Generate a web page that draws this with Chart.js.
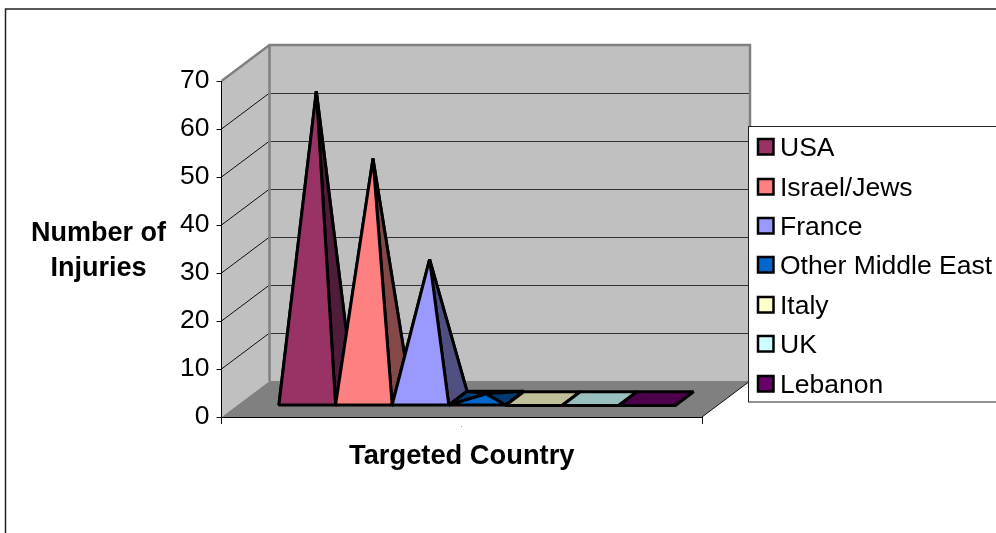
<!DOCTYPE html>
<html>
<head>
<meta charset="utf-8">
<style>
  html, body { margin: 0; padding: 0; background: #fff; overflow: hidden; }
  #wrap { position: relative; width: 996px; height: 533px; }
</style>
<script src="https://cdn.jsdelivr.net/npm/chart.js@4/dist/chart.umd.js"></script>
</head>
<body>
<div id="wrap"><canvas id="chart" width="996" height="533"></canvas></div>
<script>
const countries = ['USA', 'Israel/Jews', 'France', 'Other Middle East', 'Italy', 'UK', 'Lebanon'];
const injuries = [64, 50, 29, 1, 0, 0, 0];
const yTicks = [0, 10, 20, 30, 40, 50, 60, 70];
const yTitleLines = ['Number of', 'Injuries'];
const faceColors = ['#993366', '#ff8080', '#9999ff', '#0066cc', '#ffffcc', '#ccffff', '#660066'];
const sideColors = ['#4f1c3a', '#844848', '#505080', '#003a70', '#bfbf99', '#99bfbf', '#4c004c'];

// how far the back wall sits from the front plane
const DEPTH_X = 48;
const DEPTH_Y = -36;
// where the row of pyramids sits between the front plane (0) and the back wall (1)
const ROW_FRONT = 0.32;
const ROW_BACK = 0.7;

const FONT = '"Liberation Sans", Arial, sans-serif';

function poly(ctx, pts, fill) {
  ctx.beginPath();
  pts.forEach((p, i) => (i ? ctx.lineTo(p[0], p[1]) : ctx.moveTo(p[0], p[1])));
  ctx.closePath();
  if (fill) {
    ctx.fillStyle = fill;
    ctx.fill();
  }
}

// Page frame, walls, floor and the gridlines running over them
const wallsPlugin = {
  id: 'walls',
  beforeDraw(chart) {
    const { ctx, chartArea: a, scales: { y } } = chart;
    const bx = a.left + DEPTH_X;
    const rx = a.right + DEPTH_X;
    const top = y.getPixelForValue(70);
    const bot = y.getPixelForValue(0);

    ctx.save();
    ctx.strokeStyle = '#222';
    ctx.lineWidth = 1.5;
    ctx.beginPath();
    ctx.moveTo(5.5, 533);
    ctx.lineTo(5.5, 9);
    ctx.lineTo(996, 9);
    ctx.stroke();

    poly(ctx, [[a.left, top], [bx, top + DEPTH_Y], [bx, bot + DEPTH_Y], [a.left, bot]], '#c0c0c0');
    poly(ctx, [[bx, top + DEPTH_Y], [rx, top + DEPTH_Y], [rx, bot + DEPTH_Y], [bx, bot + DEPTH_Y]], '#c0c0c0');
    poly(ctx, [[a.left, bot], [bx, bot + DEPTH_Y], [rx, bot + DEPTH_Y], [a.right, bot]], '#808080');

    yTicks.forEach(v => {
      if (v === 0 || v === 70) return;
      const py = y.getPixelForValue(v);
      ctx.strokeStyle = '#111';
      ctx.lineWidth = 1;
      ctx.beginPath();
      ctx.moveTo(a.left, py);
      ctx.lineTo(bx, py + DEPTH_Y);
      ctx.stroke();
      ctx.strokeStyle = '#333';
      ctx.beginPath();
      ctx.moveTo(bx, Math.round(py + DEPTH_Y) + 0.5);
      ctx.lineTo(rx, Math.round(py + DEPTH_Y) + 0.5);
      ctx.stroke();
    });

    // grey rim of the walls
    ctx.strokeStyle = '#808080';
    ctx.lineWidth = 2.5;
    ctx.beginPath();
    ctx.moveTo(a.left, top);
    ctx.lineTo(bx, top + DEPTH_Y);
    ctx.lineTo(rx, top + DEPTH_Y);
    ctx.lineTo(rx, bot + DEPTH_Y);
    ctx.moveTo(bx, top + DEPTH_Y);
    ctx.lineTo(bx, bot + DEPTH_Y);
    ctx.stroke();

    // right edge of the floor
    ctx.strokeStyle = '#111';
    ctx.lineWidth = 1;
    ctx.beginPath();
    ctx.moveTo(a.right, bot);
    ctx.lineTo(rx, bot + DEPTH_Y);
    ctx.stroke();
    ctx.restore();
  },
  afterDraw(chart) {
    const { ctx } = chart;
    ctx.save();
    ctx.fillStyle = '#000';
    ctx.font = 'bold 27px ' + FONT;
    ctx.textAlign = 'center';
    ctx.textBaseline = 'middle';
    yTitleLines.forEach((line, i) => ctx.fillText(line, 98.5, 234 + i * 35));
    ctx.fillStyle = '#999';
    ctx.fillRect(461, 426, 1, 1);
    ctx.restore();
  }
};

function drawPyramid(ctx, bar, face, side) {
  const hw = bar.width / 2;
  const at = (x, f) => [x + DEPTH_X * f, bar.base + DEPTH_Y * f];
  const fl = at(bar.x - hw, ROW_FRONT);
  const fr = at(bar.x + hw, ROW_FRONT);
  const bl = at(bar.x - hw, ROW_BACK);
  const br = at(bar.x + hw, ROW_BACK);
  const mid = (ROW_FRONT + ROW_BACK) / 2;
  const apex = [bar.x + DEPTH_X * mid, bar.y + DEPTH_Y * mid];

  ctx.save();
  ctx.strokeStyle = '#000';
  ctx.lineWidth = 3;
  ctx.lineJoin = 'miter';
  ctx.miterLimit = 1.5;
  if (bar.base - bar.y < 0.01) {
    // a zero value leaves just the flat base on the floor
    poly(ctx, [fl, fr, br, bl], side);
    ctx.stroke();
  } else {
    [[bl, br, apex], [fl, bl, apex], [fr, br, apex]].forEach(f => {
      poly(ctx, f, side);
      ctx.stroke();
    });
    poly(ctx, [fl, fr, apex], face);
    ctx.stroke();
  }
  ctx.restore();
}

// Pyramids go left to right so each one overlaps its neighbour's side face
const pyramidsPlugin = {
  id: 'pyramids',
  beforeDatasetsDraw(chart) {
    chart.data.datasets.forEach((ds, i) => {
      const bar = chart.getDatasetMeta(i).data[0];
      drawPyramid(chart.ctx, bar, ds.backgroundColor, sideColors[i]);
    });
    return false;
  }
};

// Boxed legend on the right, its box running off the edge of the page
const legendPlugin = {
  id: 'boxLegend',
  afterDraw(chart) {
    const { ctx } = chart;
    const rows = [147, 187, 226, 265, 305, 344, 384];
    ctx.save();
    ctx.fillStyle = '#fff';
    ctx.fillRect(748.5, 126.5, 260, 275.5);
    ctx.strokeStyle = '#222';
    ctx.lineWidth = 1;
    ctx.strokeRect(748.5, 126.5, 260, 275.5);
    ctx.font = '26.5px ' + FONT;
    ctx.textBaseline = 'middle';
    ctx.textAlign = 'left';
    chart.data.datasets.forEach((ds, i) => {
      const cy = rows[i];
      ctx.fillStyle = ds.backgroundColor;
      ctx.fillRect(758, cy - 8, 15.5, 15.5);
      ctx.strokeStyle = '#000';
      ctx.lineWidth = 2.5;
      ctx.strokeRect(758, cy - 8, 15.5, 15.5);
      ctx.fillStyle = '#000';
      ctx.fillText(ds.label, 780, cy + 2);
    });
    ctx.restore();
  }
};

new Chart(document.getElementById('chart'), {
  type: 'bar',
  data: {
    labels: [''],
    datasets: countries.map((name, i) => ({
      label: name,
      data: [injuries[i]],
      backgroundColor: faceColors[i]
    }))
  },
  options: {
    responsive: false,
    animation: false,
    layout: { padding: { top: 81, left: 0, right: 294, bottom: 0 } },
    categoryPercentage: 0.825,
    barPercentage: 1,
    plugins: { legend: { display: false }, tooltip: { enabled: false } },
    scales: {
      x: {
        grid: { offset: true, drawOnChartArea: false, drawTicks: true, tickLength: 7, color: '#111' },
        border: { color: '#000', width: 1 },
        ticks: { display: false },
        title: { display: true, text: 'Targeted Country', color: '#000', font: { family: FONT, size: 27.3, weight: 'bold' }, padding: { top: 0, bottom: 60 } },
        afterFit(s) { s.height = 116; }
      },
      y: {
        min: 0,
        max: 70,
        grid: { drawOnChartArea: false, drawTicks: true, tickLength: 5, color: '#111' },
        border: { color: '#000', width: 1 },
        ticks: {
          stepSize: 10,
          color: '#000',
          padding: 7,
          font: { family: FONT, size: 26.5 },
          callback: v => (yTicks.includes(v) ? String(v) : '')
        },
        afterFit(s) { s.width = 221.5; }
      }
    }
  },
  plugins: [wallsPlugin, pyramidsPlugin, legendPlugin]
});
</script>
</body>
</html>
